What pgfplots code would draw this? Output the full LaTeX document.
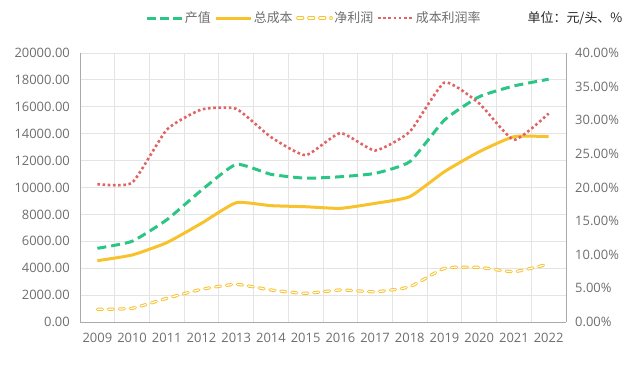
\documentclass[border=0pt]{standalone}
\usepackage{pgfplots}
\usepackage{pgfplotstable}
\pgfplotsset{compat=1.18}
\usepackage{fontspec}
\setmainfont{Open Sans}
\newfontfamily\cjk{Noto Sans CJK SC}
\definecolor{cgreen}{HTML}{2BC585}
\definecolor{cyel}{HTML}{F8C22C}
\definecolor{cred}{HTML}{E06464}
\definecolor{cgrid}{HTML}{E4E4E4}
\definecolor{ctext}{HTML}{6E6E6E}
\definecolor{caxis}{HTML}{AAAAAA}

\pgfplotstableread{
i  year  pv     cost   np    rate
0  2009  5480   4560   940   20.5
1  2010  6000   4980   1020  20.7
2  2011  7600   5900   1760  28.6
3  2012  9800   7340   2430  31.6
4  2013  11720  8870   2800  31.7
5  2014  10980  8650   2380  27.5
6  2015  10690  8570   2130  24.8
7  2016  10800  8450   2380  28.1
8  2017  11050  8820   2250  25.5
9  2018  11920  9320   2620  28.3
10 2019  15020  11180  3990  35.6
11 2020  16750  12660  4060  32.5
12 2021  17550  13780  3740  27.1
13 2022  18050  13780  4310  31.0
}\datatable

\begin{document}
\begin{tikzpicture}
\path[use as bounding box] (0,0) rectangle (634bp,371bp);
\begin{axis}[
  at={(80bp,49bp)}, anchor=south west, scale only axis,
  width=486bp, height=269bp,
  xmin=-0.5, xmax=13.5, ymin=0, ymax=20000,
  xtick={0,...,13},
  xticklabels={2009,2010,2011,2012,2013,2014,2015,2016,2017,2018,2019,2020,2021,2022},
  minor xtick={-0.5,0.5,...,13.5},
  ytick={0,2000,...,20000},
  xminorgrids, ymajorgrids,
  grid style={cgrid, line width=0.8bp},
  minor grid style={cgrid, line width=0.8bp},
  axis x line*=bottom, axis y line*=left,
  axis line style={-, caxis, line width=0.8bp},
  major tick length=0, minor tick length=0,
  ticklabel style={font=\fontsize{13}{15}\selectfont, text=ctext, inner sep=0pt},
  scaled y ticks=false,
  yticklabel style={xshift=-10bp, /pgf/number format/.cd, fixed, fixed zerofill, precision=2, 1000 sep={}, assume math mode=true},
  xticklabel style={/pgf/number format/assume math mode=true, yshift=-11bp},
]
\addplot[cgreen, line width=3bp, dash pattern=on 9bp off 5bp, smooth, tension=0.3] table[x=i, y=pv] {\datatable};
\addplot[cyel, line width=3bp, smooth, tension=0.3] table[x=i, y=cost] {\datatable};
\addplot[cyel, line width=3.2bp, dash pattern=on 5bp off 6bp, line cap=round, smooth, tension=0.3] table[x=i, y=np] {\datatable};
\addplot[white, line width=1.2bp, dash pattern=on 5bp off 6bp, line cap=round, smooth, tension=0.3] table[x=i, y=np] {\datatable};
\end{axis}
\begin{axis}[
  at={(80bp,49bp)}, anchor=south west, scale only axis,
  width=486bp, height=269bp,
  xmin=-0.5, xmax=13.5, ymin=0, ymax=40,
  axis x line=none, axis y line*=right,
  axis line style={-, caxis, line width=0.8bp},
  ytick={0,5,...,40},
  major tick length=0,
  ticklabel style={font=\fontsize{13}{15}\selectfont, text=ctext, inner sep=0pt},
  yticklabel style={xshift=9bp},
  yticklabel={\pgfmathprintnumber[fixed, fixed zerofill, precision=2, assume math mode=true]{\tick}\%},
  legend image code/.code={\draw[#1] (0bp,0bp) -- (35bp,0bp);},
  legend style={at={(0.481,1.13)}, anchor=center, draw=none, fill=none,
    legend columns=-1, font=\cjk\fontsize{13}{15}\selectfont, text=ctext,
    nodes={inner sep=1.5bp},
    /tikz/every even column/.append style={column sep=2bp},
    inner sep=0pt},
]
\addlegendimage{cgreen, line width=3bp, dash pattern=on 9bp off 4bp}
\addlegendentry{产值}
\addlegendimage{cyel, line width=3bp}
\addlegendentry{总成本}
\addlegendimage{legend image code/.code={
  \draw[cyel, line width=3.2bp, dash pattern=on 5bp off 6bp, line cap=round] (1.5bp,0bp) -- (35bp,0bp);
  \draw[white, line width=1.2bp, dash pattern=on 5bp off 6bp, line cap=round] (1.5bp,0bp) -- (35bp,0bp);}}
\addlegendentry{净利润}
\addplot[cred, line width=2.6bp, dash pattern=on 2.6bp off 2.6bp, smooth, tension=0.3] table[x=i, y=rate] {\datatable};
\addlegendentry{成本利润率}
\end{axis}
\node[font=\cjk\fontsize{13}{15}\selectfont, text=black!85, anchor=center] at (575bp,353bp) {单位：元/头、\%};
\end{tikzpicture}
\end{document}
